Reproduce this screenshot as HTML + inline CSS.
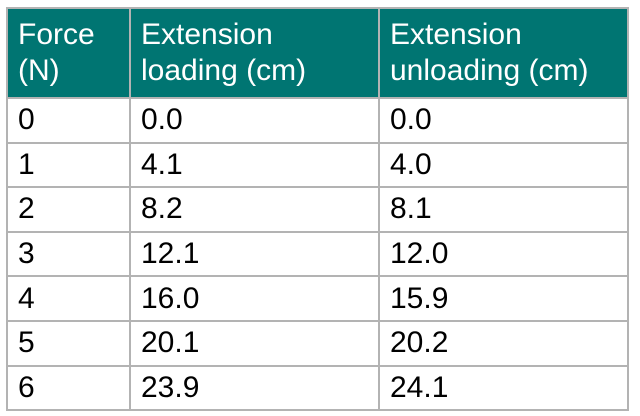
<!DOCTYPE html>
<html><head><style>
html,body{margin:0;padding:0;background:#fff;width:640px;height:416px;overflow:hidden}
table{position:absolute;left:6px;top:7px;border-collapse:collapse;table-layout:fixed;font-family:"Liberation Sans",sans-serif;}
td,th{border:2px solid #b3b3b3;padding:0 0 0 10px;text-align:left;vertical-align:middle;font-weight:normal;font-size:30px;line-height:36px;overflow:hidden;white-space:nowrap}
th{background:#007572;color:#fff;height:88px}
td{height:42.6px;color:#000}
</style></head><body>
<table>
<tr><th style="width:111px">Force<br>(N)</th><th style="width:237px">Extension<br>loading (cm)</th><th style="width:237px">Extension<br>unloading (cm)</th></tr>
<tr><td>0</td><td>0.0</td><td>0.0</td></tr>
<tr><td>1</td><td>4.1</td><td>4.0</td></tr>
<tr><td>2</td><td>8.2</td><td>8.1</td></tr>
<tr><td>3</td><td>12.1</td><td>12.0</td></tr>
<tr><td>4</td><td>16.0</td><td>15.9</td></tr>
<tr><td>5</td><td>20.1</td><td>20.2</td></tr>
<tr><td>6</td><td>23.9</td><td>24.1</td></tr>
</table>
</body></html>
